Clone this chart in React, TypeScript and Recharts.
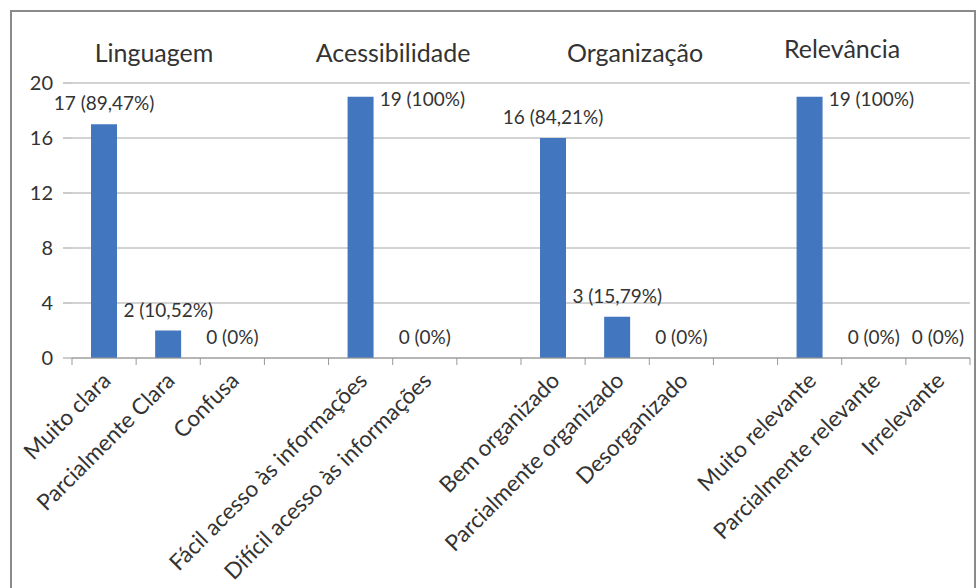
import React from 'react';
import { ComposedChart, Bar, Line, XAxis, YAxis, CartesianGrid, LabelList } from 'recharts';

const categories = [
  'Muito clara',
  'Parcialmente Clara',
  'Confusa',
  '',
  'Fácil acesso às informações',
  'Difícil acesso às informações',
  '',
  'Bem organizado',
  'Parcialmente organizado',
  'Desorganizado',
  '',
  'Muito relevante',
  'Parcialmente relevante',
  'Irrelevante',
];
const counts = [17, 2, 0, null, 19, 0, null, 16, 3, 0, null, 19, 0, 0];
const percents = ['89,47%', '10,52%', '0%', '', '100%', '0%', '', '84,21%', '15,79%', '0%', '', '100%', '0%', '0%'];
const groupTitles = ['Linguagem', 'Acessibilidade', 'Organização', 'Relevância'];
const yTicks = [0, 4, 8, 12, 16, 20];

const data = categories.map((name, i) => ({
  key: 'c' + i,
  name,
  value: counts[i],
  label: counts[i] === null ? '' : `${counts[i]} (${percents[i]})`,
}));

// layout
const W = 976;
const H = 588;
const PLOT_LEFT = 72;
const PLOT_RIGHT = 970;
const BAND = (PLOT_RIGHT - PLOT_LEFT) / categories.length;
const BAR = 26;
const titleX = [154, 393, 635, 842];
const titleY = [52, 52, 52, 48];
const FONT = 'Lato, "Liberation Sans", sans-serif';
const TEXT = '#333';

const XTick = (props: any) => {
  const { x, y, index, payload } = props;
  const name = categories[index] ?? payload.value;
  return (
    <g>
      <line x1={x - BAND / 2} y1={y} x2={x - BAND / 2} y2={y + 7} stroke="#999" />
      {index === categories.length - 1 && (
        <line x1={x + BAND / 2} y1={y} x2={x + BAND / 2} y2={y + 7} stroke="#999" />
      )}
      {name && (
        <text
          x={x + 8}
          y={y + 24}
          transform={`rotate(-45, ${x + 8}, ${y + 24})`}
          textAnchor="end"
          fontSize={22.5}
          fontFamily={FONT}
          fill={TEXT}
        >
          {name}
        </text>
      )}
    </g>
  );
};

// labels sit on the invisible line points (bar tops); full bars get theirs on the right
const ValueLabel = (props: any) => {
  const { x, y, value } = props;
  if (!value) return null;
  const v = parseInt(String(value), 10);
  if (v >= 19) {
    return (
      <text x={x + BAR / 2 + 6} y={y + 9} fontSize={19} fontFamily={FONT} fill={TEXT}>
        {value}
      </text>
    );
  }
  return (
    <text x={x} y={y - 14} textAnchor="middle" fontSize={19} fontFamily={FONT} fill={TEXT}>
      {value}
    </text>
  );
};

export default function App() {
  return (
    <div style={{ position: 'absolute', left: 0, top: 0, width: W, height: H, background: '#fff', overflow: 'hidden' }}>
      <div
        style={{
          position: 'absolute',
          left: 10,
          top: 10,
          width: 966,
          height: 600,
          border: '2px solid #8a8a8a',
          boxSizing: 'border-box',
        }}
      />
      {groupTitles.map((t, i) => (
        <div
          key={t}
          style={{
            position: 'absolute',
            left: titleX[i] - 100,
            width: 200,
            top: titleY[i] - 16,
            textAlign: 'center',
            fontFamily: FONT,
            fontSize: 25,
            color: TEXT,
            lineHeight: '32px',
          }}
        >
          {t}
        </div>
      ))}
      <div style={{ position: 'absolute', left: 0, top: 0 }}>
        <ComposedChart
          width={W}
          height={H}
          data={data}
          margin={{ top: 83, right: W - PLOT_RIGHT, bottom: 30, left: 0 }}
          barCategoryGap={0}
        >
          <CartesianGrid vertical={false} stroke="#a6a6a6" />
          <XAxis
            dataKey="key"
            height={200}
            interval={0}
            tickLine={false}
            tickSize={0}
            tickMargin={0}
            axisLine={{ stroke: '#999' }}
            tick={<XTick />}
          />
          <YAxis
            width={PLOT_LEFT}
            domain={[0, 20]}
            ticks={yTicks}
            axisLine={false}
            tickLine={{ stroke: '#999' }}
            tickSize={9}
            tickMargin={10}
            tick={{ fontSize: 20, fontFamily: FONT, fill: TEXT }}
          />
          <Bar dataKey="value" fill="#4276be" barSize={BAR} isAnimationActive={false} />
          <Line
            dataKey="value"
            stroke="none"
            dot={false}
            activeDot={false}
            connectNulls={false}
            isAnimationActive={false}
          >
            <LabelList dataKey="label" content={<ValueLabel />} />
          </Line>
        </ComposedChart>
      </div>
    </div>
  );
}
